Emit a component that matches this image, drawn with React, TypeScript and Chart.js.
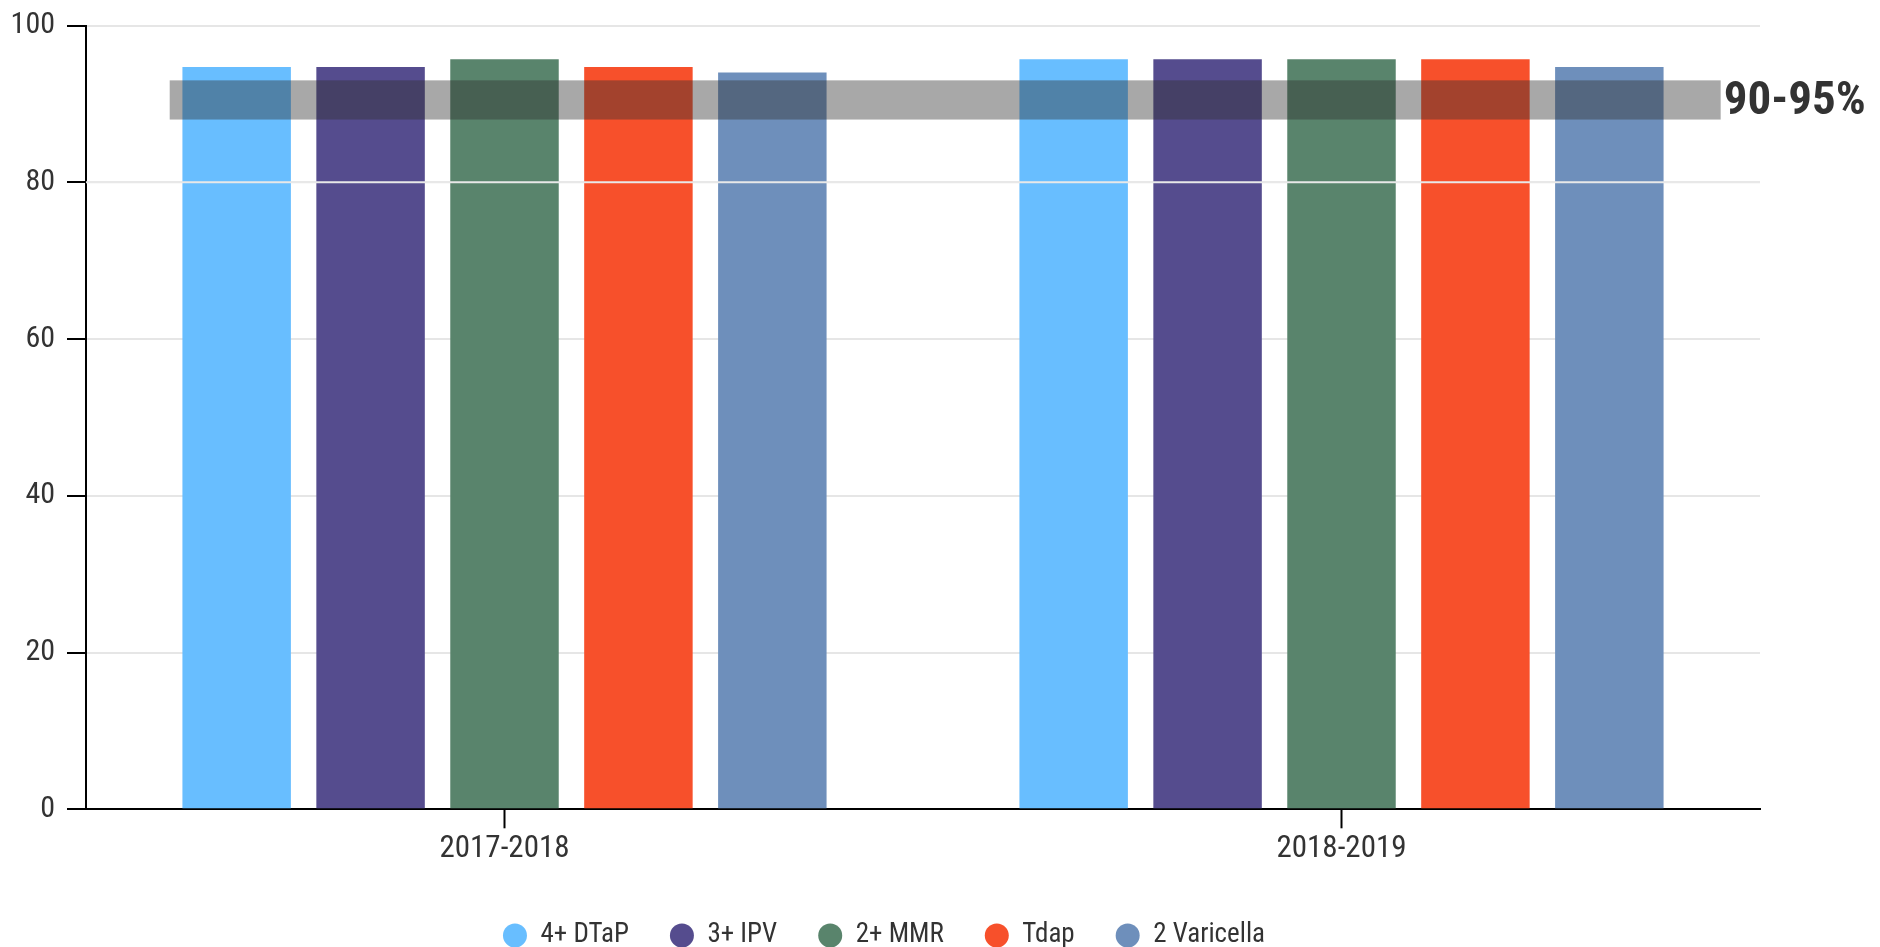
import React, { useEffect, useRef } from 'react';
import { Chart, registerables } from 'chart.js';

Chart.register(...registerables);

const categories = ['2017-2018', '2018-2019'];
const seriesNames = ['4+ DTaP', '3+ IPV', '2+ MMR', 'Tdap', '2 Varicella'];
const dtapValues = [94.7, 95.7];
const ipvValues = [94.7, 95.7];
const mmrValues = [95.7, 95.7];
const tdapValues = [94.7, 95.7];
const varicellaValues = [94.0, 94.7];
const seriesColors = ['#68BEFF', '#554C8E', '#59846C', '#F7502B', '#6E8FBB'];
const yMin = 0;
const yMax = 100;
const yStep = 20;
const bandRange = [88, 93];
const bandSpan = [-0.4, 1.453];
const bandLabel = '90-95%';
const refLineValue = 80;

const FONT = "'Roboto Condensed', 'Liberation Sans Narrow', 'Arial Narrow', Roboto, sans-serif";
const TEXT = '#333333';

const bandPlugin = {
  id: 'targetBand',
  afterDatasetsDraw(chart: any) {
    const { ctx, chartArea, scales } = chart;
    const x = scales.x;
    const y = scales.y;
    ctx.save();
    const ly = y.getPixelForValue(refLineValue);
    ctx.strokeStyle = '#e8e8e8';
    ctx.lineWidth = 2;
    ctx.beginPath();
    ctx.moveTo(chartArea.left, ly);
    ctx.lineTo(chartArea.right, ly);
    ctx.stroke();
    const x0 = x.getPixelForValue(bandSpan[0]);
    const x1 = x.getPixelForValue(bandSpan[1]);
    const yTop = y.getPixelForValue(bandRange[1]);
    const yBot = y.getPixelForValue(bandRange[0]);
    ctx.fillStyle = 'rgba(48,48,48,0.42)';
    ctx.fillRect(x0, yTop, x1 - x0, yBot - yTop);
    ctx.fillStyle = TEXT;
    ctx.font = `bold 47px ${FONT}`;
    ctx.textAlign = 'left';
    ctx.textBaseline = 'middle';
    ctx.fillText(bandLabel, x1 + 3, (yTop + yBot) / 2 + 2);
    ctx.restore();
  },
};

export default function App() {
  const ref = useRef<HTMLCanvasElement | null>(null);

  useEffect(() => {
    document.body.style.overflow = 'hidden';
    if (!ref.current) return;
    const values = [dtapValues, ipvValues, mmrValues, tdapValues, varicellaValues];
    const chart = new Chart(ref.current, {
      type: 'bar',
      data: {
        labels: categories,
        datasets: seriesNames.map((name, i) => ({
          label: name,
          data: values[i],
          backgroundColor: seriesColors[i],
          borderWidth: 0,
          pointStyle: 'circle',
          barPercentage: 0.81,
          categoryPercentage: 0.8,
        })),
      },
      options: {
        animation: false,
        responsive: true,
        maintainAspectRatio: false,
        layout: { padding: { top: 17.5, right: 112, left: 0, bottom: 0 } },
        plugins: {
          legend: {
            position: 'bottom',
            labels: {
              usePointStyle: true,
              pointStyle: 'circle',
              pointStyleWidth: 24,
              boxHeight: 17,
              padding: 41,
              color: TEXT,
              font: { family: FONT, size: 27 },
            },
          },
          tooltip: { enabled: false },
        },
        scales: {
          x: {
            grid: {
              display: true,
              drawOnChartArea: false,
              drawTicks: true,
              tickLength: 19,
              tickWidth: 2,
              tickColor: '#000',
              offset: false,
            },
            border: { display: true, color: '#000', width: 2 },
            ticks: { color: TEXT, font: { family: FONT, size: 31 }, padding: 2 },
            afterFit(scale: any) {
              scale.height += 11.5;
            },
          },
          y: {
            min: yMin,
            max: yMax,
            ticks: { stepSize: yStep, color: TEXT, font: { family: FONT, size: 30 }, padding: 12 },
            grid: { color: '#e6e6e6', lineWidth: 2, tickColor: '#000', tickLength: 19, tickWidth: 2 },
            border: { display: true, color: '#000', width: 2 },
            afterFit(scale: any) {
              scale.width = 78;
              scale.paddingTop = 0;
              scale.paddingBottom = 0;
            },
          },
        },
      },
      plugins: [bandPlugin],
    });
    return () => chart.destroy();
  }, []);

  return (
    <div style={{ width: 1864, height: 951, position: 'relative' }}>
      <canvas ref={ref} />
    </div>
  );
}
